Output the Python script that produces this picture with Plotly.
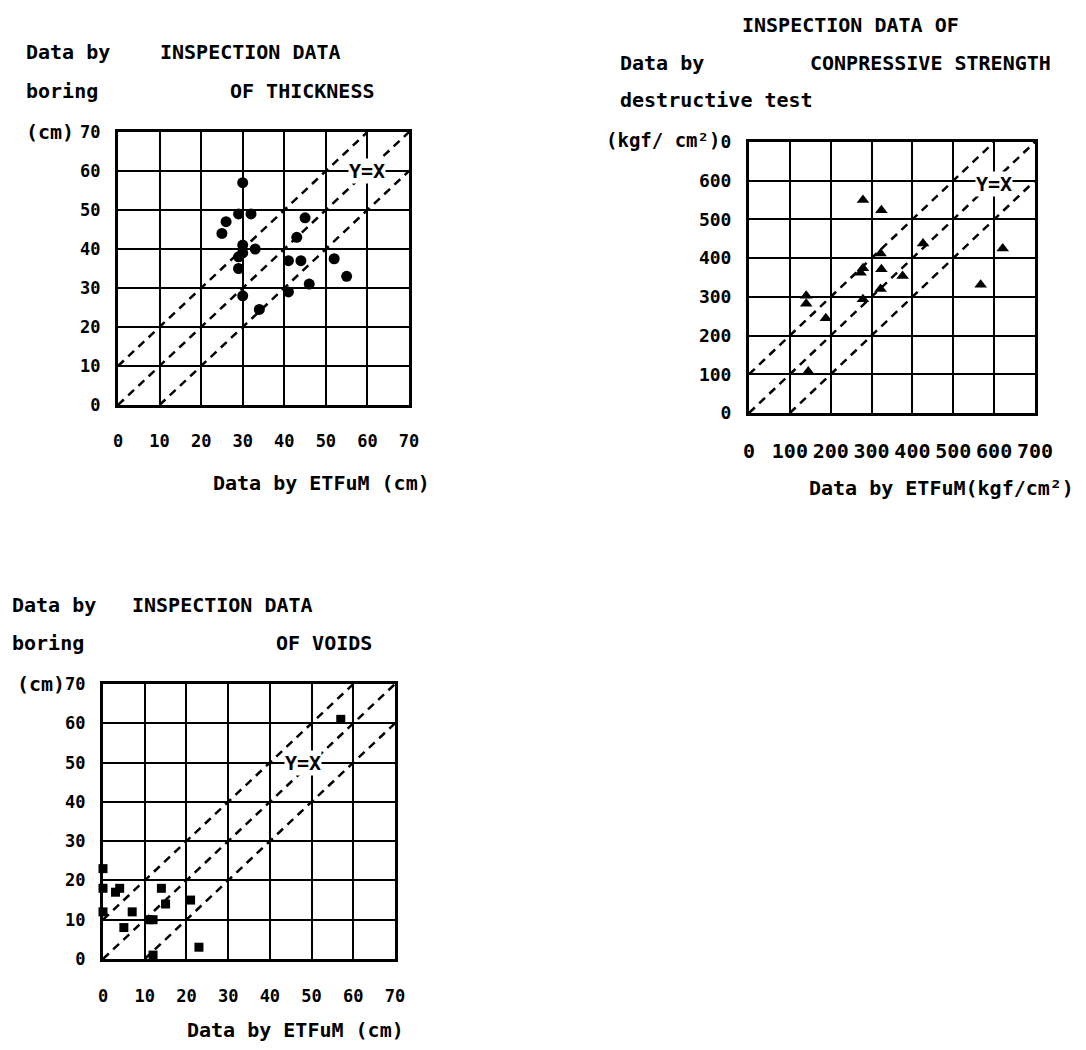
import plotly.graph_objects as go

# page is 1086x1050 with the browser's default 8px body margin
PAGE_OFF = 8
W, H = 1086 - 2 * PAGE_OFF, 1050 - 2 * PAGE_OFF
FONT = "DejaVu Sans Mono"

# ---------------- data ----------------
# Plot 1: thickness (cm)
thick_x = [30, 29, 32, 26, 25, 45, 43, 30, 33, 30, 29, 29, 41, 44, 52, 55, 46, 30, 41, 34]
thick_y = [57, 49, 49, 47, 44, 48, 43, 41, 40, 39, 38, 35, 37, 37, 37.5, 33, 31, 28, 29, 24.5]

# Plot 2: compressive strength (kgf/cm2)
comp_x = [279, 324, 426, 621, 322, 273, 279, 324, 376, 322, 567, 279, 140, 140, 188, 145]
comp_y = [550, 524, 438, 425, 412, 362, 374, 371, 354, 320, 331, 294, 303, 282, 245, 107]

# Plot 3: voids (cm)
void_x = [57, 0, 0, 0, 3, 4, 7, 5, 14, 15, 21, 11, 12, 12, 23]
void_y = [61, 23, 18, 12, 17, 18, 12, 8, 18, 14, 15, 10, 10, 1, 3]

thick_ticks = [0, 10, 20, 30, 40, 50, 60, 70]
comp_ticks = [0, 100, 200, 300, 400, 500, 600, 700]
comp_ytext = ["0", "100", "200", "300", "400", "500", "600", "0"]
comp_xtext = ["0", "100", "200", "300", "400", "500", "600", "700"]
void_ticks = [0, 10, 20, 30, 40, 50, 60, 70]

band_offsets_cm = [10, 0, -10]
band_offsets_kgf = [100, 0, -100]

# ---------------- layout helpers (page pixel coords) ----------------
def dom_x(a, b):
    return [(a - PAGE_OFF) / W, (b - PAGE_OFF) / W]

def dom_y(top, bottom):
    return [1 - (bottom - PAGE_OFF) / H, 1 - (top - PAGE_OFF) / H]

boxes = {
    1: dict(x=(118, 409), y=(132, 405)),
    2: dict(x=(749, 1035), y=(142, 413)),
    3: dict(x=(103, 395), y=(684, 959)),
}

fig = go.Figure()

def add_bands(n, offsets, vmax):
    xr = "x" if n == 1 else f"x{n}"
    yr = "y" if n == 1 else f"y{n}"
    for off in offsets:
        x0 = max(0, -off)
        x1 = min(vmax, vmax - off)
        fig.add_trace(go.Scatter(
            x=[x0, x1], y=[x0 + off, x1 + off], mode="lines",
            line=dict(color="black", width=2.5, dash="8px,6px"),
            xaxis=xr, yaxis=yr, showlegend=False, hoverinfo="skip"))

add_bands(1, band_offsets_cm, 70)
add_bands(2, band_offsets_kgf, 700)
add_bands(3, band_offsets_cm, 70)

fig.add_trace(go.Scatter(x=thick_x, y=thick_y, mode="markers",
                         marker=dict(symbol="circle", size=11, color="black"),
                         xaxis="x", yaxis="y", showlegend=False, cliponaxis=False))
fig.add_trace(go.Scatter(x=comp_x, y=comp_y, mode="markers",
                         marker=dict(symbol="triangle-up", size=11, color="black"),
                         xaxis="x2", yaxis="y2", showlegend=False, cliponaxis=False))
fig.add_trace(go.Scatter(x=void_x, y=void_y, mode="markers",
                         marker=dict(symbol="square", size=9, color="black"),
                         xaxis="x3", yaxis="y3", showlegend=False, cliponaxis=False))

def axis(n, rng, tickvals, ticktext, which, size, standoff):
    b = boxes[n]
    d = dict(
        range=rng, tickmode="array", tickvals=tickvals, ticktext=ticktext,
        showgrid=True, gridcolor="black", gridwidth=2,
        showline=True, linecolor="black", linewidth=3, mirror=True,
        zeroline=False, ticks="", ticklabelstandoff=standoff,
        tickfont=dict(family=FONT, size=size, color="black", weight="bold"),
        fixedrange=True, automargin=False,
    )
    if which == "x":
        d["domain"] = dom_x(*b["x"])
        d["anchor"] = "y" if n == 1 else f"y{n}"
    else:
        d["domain"] = dom_y(*b["y"])
        d["anchor"] = "x" if n == 1 else f"x{n}"
    return d

fig.update_layout(
    template="none",
    width=W, height=H, margin=dict(l=0, r=0, t=0, b=0, pad=0, autoexpand=False),
    paper_bgcolor="white", plot_bgcolor="white", showlegend=False,
    xaxis=axis(1, [0, 70], thick_ticks, [str(v) for v in thick_ticks], "x", 17, 19),
    yaxis=axis(1, [0, 70], thick_ticks, [str(v) for v in thick_ticks], "y", 17, 11),
    xaxis2=axis(2, [0, 700], comp_ticks, comp_xtext, "x", 20, 18),
    yaxis2=axis(2, [0, 700], comp_ticks, comp_ytext, "y", 18, 11),
    xaxis3=axis(3, [0, 70], void_ticks, [str(v) for v in void_ticks], "x", 17, 20),
    yaxis3=axis(3, [0, 70], void_ticks, [str(v) for v in void_ticks], "y", 17, 11),
)

def txt(text, x, y, anchor="left", size=20):
    fig.add_annotation(text=text, x=(x - PAGE_OFF) / W, y=1 - (y - PAGE_OFF) / H,
                       xref="paper", yref="paper",
                       xanchor=anchor, yanchor="middle", showarrow=False,
                       font=dict(family=FONT, size=size, color="black", weight="bold"))

# Plot 1 texts
txt("Data by", 24, 52)
txt("INSPECTION DATA", 158, 52)
txt("boring", 24, 91)
txt("OF THICKNESS", 228, 91)
txt("(cm)", 24, 132)
txt("Data by ETFuM (cm)", 432, 483, anchor="right")

# Plot 2 texts
txt("INSPECTION DATA OF", 740, 25)
txt("Data by", 618, 63)
txt("CONPRESSIVE STRENGTH", 808, 63)
txt("destructive test", 618, 100)
txt("(kgf/ cm²)", 722, 140, anchor="right", size=19)
txt("Data by ETFuM(kgf/cm²)", 1076, 488, anchor="right")

# Plot 3 texts
txt("Data by", 10, 605)
txt("INSPECTION DATA", 130, 605)
txt("boring", 10, 643)
txt("OF VOIDS", 274, 643)
txt("(cm)", 67, 684, anchor="right")
txt("Data by ETFuM (cm)", 406, 1030, anchor="right")

# Y=X labels
for xr, yr, lx, ly in [("x", "y", 60, 60), ("x2", "y2", 600, 592), ("x3", "y3", 48, 50)]:
    fig.add_annotation(text="Y=X", x=lx, y=ly, xref=xr, yref=yr, showarrow=False,
                       bgcolor="white", borderpad=0,
                       font=dict(family=FONT, size=20, color="black", weight="bold"))

fig.write_html("out.html")
